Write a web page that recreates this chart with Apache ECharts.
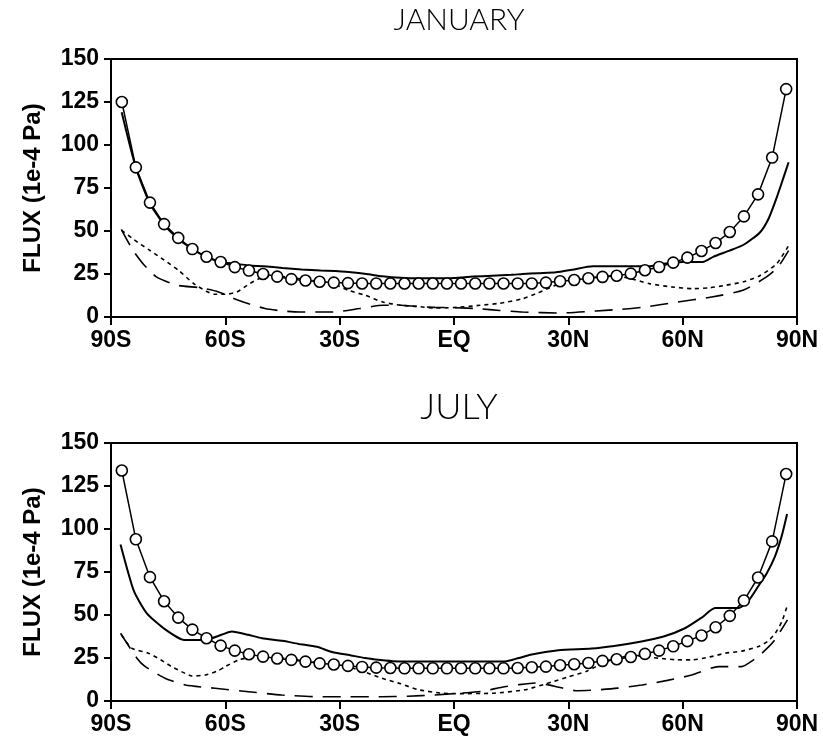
<!DOCTYPE html>
<html>
<head>
<meta charset="utf-8">
<script src="https://cdn.jsdelivr.net/npm/echarts@6/dist/echarts.min.js"></script>
<style>
  html, body { margin: 0; padding: 0; background: #fff; }
  #chart { width: 823px; height: 737px; }
</style>
</head>
<body>
<div id="chart"></div>
<script>
  // latitude tick labels
  const xTickLabels = ['90S', '60S', '30S', 'EQ', '30N', '60N', '90N']

  // gaussian grid latitudes (circles), south to north
  const gaussLat = [
    -87.16, -83.48, -79.78, -76.07, -72.36, -68.65, -64.94, -61.23, -57.52, -53.81, -50.10, -46.39,
    -42.68, -38.97, -35.26, -31.54, -27.83, -24.12, -20.41, -16.70, -12.99, -9.28, -5.57, -1.86,
    1.86, 5.57, 9.28, 12.99, 16.70, 20.41, 24.12, 27.83, 31.54, 35.26, 38.97, 42.68,
    46.39, 50.10, 53.81, 57.52, 61.23, 64.94, 68.65, 72.36, 76.07, 79.78, 83.48, 87.16
  ]

  // ---------- JANUARY ----------
  const janCircle = [
    125, 87, 66.5, 54, 46, 39.5, 35, 32, 29, 27, 25, 23.5,
    22, 21.2, 20.5, 20, 19.7, 19.5, 19.5, 19.5, 19.5, 19.5, 19.5, 19.5,
    19.5, 19.5, 19.5, 19.5, 19.5, 19.5, 20, 20.8, 21.5, 22.5, 23.3, 24,
    25.2, 27.2, 29.1, 31.6, 34.5, 38.4, 43, 49.4, 58.5, 71.3, 92.7, 132.5
  ]
  const janSolidLat = [-87.2, -83.5, -79.8, -76, -72.4, -68.6, -65, -61.2, -57.5, -53.8, -50, -45, -40, -35, -31, -27, -23, -18.8, -14, -9, -5, 0, 5, 10, 15, 18, 22, 26.8, 31, 36.4, 45, 51, 55, 60, 65.3, 68, 72.3, 76, 80.2, 82.5, 84.6, 86.3, 87.8]
  const janSolid = [119, 87, 66, 53.5, 45.5, 39.5, 35, 32, 31, 30, 29.5, 28.5, 27.6, 27, 26.8, 26, 25, 23.7, 22.8, 22.5, 22.5, 22.7, 23.5, 24, 24.5, 25, 25.5, 26, 27.5, 29.5, 29.5, 29.5, 31, 32, 32, 35, 38.6, 42, 49, 57, 69, 80, 90]
  const janDotLat = [-87.2, -84, -80, -76, -72.2, -68.3, -65, -63, -60, -57, -53.6, -50.9, -47, -43, -38, -31.8, -27.7, -23.3, -18.7, -14, -9.9, -5, 0, 6.8, 12, 18, 22, 27.7, 32, 37.3, 42, 46, 51.3, 57, 62.7, 67, 71.4, 76, 80.2, 84.6, 87.8]
  const janDot = [50.4, 45, 39, 33, 27, 19.4, 15, 13.2, 13.2, 14.5, 19.4, 22.5, 24, 23, 21.5, 19.4, 15.5, 12.6, 8.7, 6.8, 6.2, 5.2, 5.5, 6.8, 8, 10.6, 14, 19.4, 21.5, 23.3, 24, 22.5, 19.4, 17.5, 16.5, 17, 18.5, 20.5, 24, 30.8, 41.5]
  const janDashLat = [-87.3, -84.3, -81.6, -78.1, -72.7, -66.6, -61.8, -56.6, -49.6, -45, -40.6, -31.8, -24.8, -18.7, -14, -9.9, -5, 0, 6.8, 12, 18, 27.7, 37.3, 44, 50, 58, 67.5, 75.8, 82, 85, 87.8]
  const janDash = [51, 39, 31, 23.3, 18.5, 17, 14.6, 9.7, 4.9, 3.5, 2.9, 2.9, 4.9, 6.8, 6.8, 6.2, 5.6, 5.4, 4.8, 3.8, 2.9, 2.3, 3.5, 4.5, 5.8, 8.5, 11.6, 15.5, 23.3, 29, 38.6]

  // ---------- JULY ----------
  const julCircle = [
    134, 94, 72, 58, 48.5, 41.5, 36.5, 32.2, 29.3, 27.2, 25.8, 24.7,
    23.9, 22.9, 21.9, 21.2, 20.4, 19.8, 19.4, 19.2, 19, 19, 19, 19,
    19, 19, 19, 19, 19.2, 19.6, 20, 20.8, 21.4, 22.1, 23.3, 24.3,
    25.6, 27.4, 29.3, 31.8, 34.8, 38.1, 42.9, 49.5, 58.4, 71.8, 92.8, 132
  ]
  const julSolidLat = [-87.5, -84, -80.6, -76.2, -70.8, -65.3, -61, -58.3, -54, -50.4, -45, -40.8, -36, -32, -27, -23.3, -18, -14.5, -5, 5, 13.4, 17, 20.4, 27.4, 36.1, 42, 49.2, 55, 60.6, 65, 68.5, 74.6, 77.5, 79.8, 82, 84.2, 86, 87.4]
  const julSolid = [91, 64, 51, 42.3, 35.5, 35.5, 38.5, 40.4, 38.5, 36.5, 35, 33.2, 31.5, 28.5, 26.5, 25, 23.5, 23, 23, 23, 23, 25, 27, 29.5, 30.5, 32, 34.6, 37.5, 42.3, 48.5, 54, 54, 59, 66.6, 74, 84, 96, 108.7]
  const julDotLat = [-87.2, -84.6, -80.2, -77, -74.1, -70.5, -68.8, -65.3, -62, -60, -56.5, -51.3, -45, -40, -35, -30, -27.7, -23, -18.9, -14, -9.3, -3, 0, 10, 18.6, 25.6, 30, 35, 40, 44.9, 49, 53.6, 58, 62.4, 67, 71.2, 75.5, 79.9, 82.5, 84.3, 86, 87.5]
  const julDot = [38.4, 30.7, 27.8, 24, 20, 16, 14.5, 15.1, 17.5, 20, 23.9, 26, 25, 23.5, 22, 21, 20, 16.5, 13.2, 10, 6.5, 4.5, 4.3, 4.5, 6.5, 11, 14, 17.5, 23, 25.8, 26, 24.9, 24, 23.9, 25.5, 27.8, 29, 31.7, 35, 39.4, 46, 55.9]
  const julDashLat = [-87.5, -83.2, -81, -75.8, -70.5, -62.7, -53.9, -45.2, -36.4, -27.7, -18.9, -12.1, -5, 1.2, 7, 12.6, 17, 21.3, 24.5, 27.5, 32, 37.1, 43, 49.3, 56, 62.4, 69.4, 75.5, 78, 80.8, 84, 87.5]
  const julDash = [39.4, 24.9, 20, 13.2, 9.3, 7.4, 5.4, 3.5, 2.5, 2.5, 2.5, 2.8, 3.5, 4.5, 5.5, 8, 9.5, 10.5, 9.5, 8, 6, 6.4, 7.5, 9.3, 12, 15.1, 20, 20, 23, 27.8, 35, 47.2]

  const yTicks = { min: 0, max: 150, interval: 25 }

  function pairs(xs, ys) {
    return xs.map((x, i) => [x, ys[i]])
  }

  const chart = echarts.init(document.getElementById('chart'), null, { renderer: 'canvas' })

  function xAxisFor(idx) {
    return {
      type: 'value',
      gridIndex: idx,
      min: -90,
      max: 90,
      interval: 30,
      axisLine: { show: true, onZero: false, lineStyle: { color: '#000', width: 2 } },
      axisTick: { show: true, inside: false, length: 8, lineStyle: { color: '#000', width: 2 } },
      axisLabel: {
        color: '#000',
        fontFamily: "'Liberation Sans', Arial, sans-serif",
        fontWeight: 'bold',
        fontSize: 23,
        margin: 12,
        formatter: v => xTickLabels[Math.round((v + 90) / 30)]
      },
      splitLine: { show: false }
    }
  }

  function yAxisFor(idx) {
    return {
      type: 'value',
      gridIndex: idx,
      min: yTicks.min,
      max: yTicks.max,
      interval: yTicks.interval,
      name: 'FLUX (1e-4 Pa)',
      nameLocation: 'middle',
      nameGap: 66,
      nameTextStyle: {
        color: '#000',
        fontFamily: "'Liberation Sans', Arial, sans-serif",
        fontWeight: 'bold',
        fontSize: 24
      },
      axisLine: { show: true, onZero: false, lineStyle: { color: '#000', width: 2 } },
      axisTick: { show: true, inside: false, length: 7, lineStyle: { color: '#000', width: 2 } },
      axisLabel: {
        color: '#000',
        fontFamily: "'Liberation Sans', Arial, sans-serif",
        fontWeight: 'bold',
        fontSize: 23,
        margin: 12
      },
      splitLine: { show: false }
    }
  }

  function seriesFor(idx, circle, solidLat, solid, dotLat, dot, dashLat, dash) {
    return [
      {
        type: 'line', xAxisIndex: idx, yAxisIndex: idx,
        data: pairs(solidLat, solid), showSymbol: false, smooth: 0.2,
        lineStyle: { color: '#000', width: 2 }
      },
      {
        type: 'line', xAxisIndex: idx, yAxisIndex: idx,
        data: pairs(dotLat, dot), showSymbol: false, smooth: 0.2,
        lineStyle: { color: '#000', width: 1.6, type: [4, 4] }
      },
      {
        type: 'line', xAxisIndex: idx, yAxisIndex: idx,
        data: pairs(dashLat, dash), showSymbol: false, smooth: 0.2,
        lineStyle: { color: '#000', width: 1.6, type: [18, 10] }
      },
      {
        type: 'line', xAxisIndex: idx, yAxisIndex: idx,
        data: pairs(gaussLat, circle), symbol: 'circle', symbolSize: 11,
        itemStyle: { color: '#fff', borderColor: '#000', borderWidth: 1.6 },
        lineStyle: { color: '#000', width: 1.5 },
        z: 5
      }
    ]
  }

  const titleFont = { color: '#000', fontFamily: "Lato, 'Liberation Sans', sans-serif", fontWeight: 300 }

  const option = {
    animation: false,
    backgroundColor: '#fff',
    title: [
      { text: 'JANUARY', left: 454, top: 0, textAlign: 'center', textStyle: Object.assign({ fontSize: 30 }, titleFont) },
      { text: 'JULY', left: 454, top: 384, textAlign: 'center', textStyle: Object.assign({ fontSize: 36 }, titleFont) }
    ],
    grid: [
      { left: 111, right: 26, top: 59, height: 258, show: true, borderColor: '#000', borderWidth: 2, backgroundColor: 'transparent' },
      { left: 111, right: 26, top: 443, height: 258, show: true, borderColor: '#000', borderWidth: 2, backgroundColor: 'transparent' }
    ],
    xAxis: [xAxisFor(0), xAxisFor(1)],
    yAxis: [yAxisFor(0), yAxisFor(1)],
    series: [
      ...seriesFor(0, janCircle, janSolidLat, janSolid, janDotLat, janDot, janDashLat, janDash),
      ...seriesFor(1, julCircle, julSolidLat, julSolid, julDotLat, julDot, julDashLat, julDash)
    ]
  }

  chart.setOption(option)
</script>
</body>
</html>
